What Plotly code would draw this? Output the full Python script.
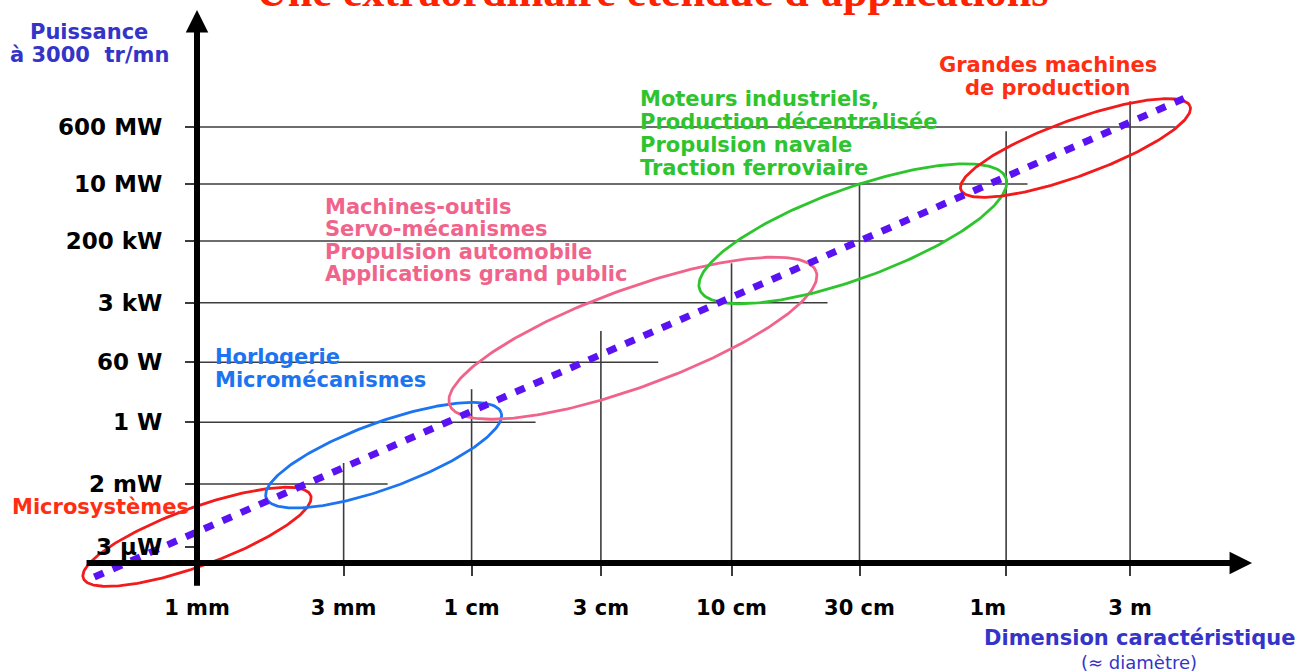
import numpy as np
import plotly.graph_objects as go

# ---------------- data ----------------
dim_labels = ["1 mm", "3 mm", "1 cm", "3 cm", "10 cm", "30 cm", "1m", "3 m"]
power_labels = ["3 µW", "2 mW", "1 W", "60 W", "3 kW", "200 kW", "10 MW", "600 MW"]

# schematic (non-proportional) position of each graduation
dim_pos = [0.0, 1.10, 2.06, 3.03, 4.01, 4.97, 6.07, 7.0]
power_pos = [0.0, 1.05, 2.08, 3.08, 4.07, 5.10, 6.05, 7.0]

# staircase grid: reach of each horizontal / vertical reference line
hline_reach = [None, 1.43, 2.54, 3.46, 4.73, 5.61, 6.23, 7.34]
vline_reach = [None, 1.40, 2.63, 3.60, 4.73, 6.07, 6.93, 7.43]

# trend (power vs. size)
trend_x = [-0.77, 7.43]
trend_y = [-0.50, 7.50]

# application domains (ellipse centre in axis units)
domain_names = ["Microsystèmes", "Horlogerie", "Machines-outils", "Moteurs industriels", "Grandes machines"]
domain_cx = [0.00, 1.40, 3.27, 4.92, 6.59]
domain_cy = [0.17, 1.53, 3.48, 5.22, 6.65]

microsys_text = ["Microsystèmes"]
horlo_text = ["Horlogerie", "Micromécanismes"]
machines_text = ["Machines-outils", "Servo-mécanismes", "Propulsion automobile", "Applications grand public"]
moteurs_text = ["Moteurs industriels,", "Production décentralisée", "Propulsion navale", "Traction ferroviaire"]
grandes_text = ["Grandes machines", "de production"]

title_text = "Une extraordinaire étendue d'applications"
y_title = ["Puissance", "à 3000\u00a0\u00a0tr/mn"]
x_title = ["Dimension caractéristique", "(≈ diamètre)"]

# ---------------- layout geometry ----------------
W, H = 1316, 672
X0, XS = 197, 133.3      # pixel of x=0, pixels per unit
Y0, YS = 547, 60.0       # pixel of y=0, pixels per unit
xr = [-X0 / XS, (W - X0) / XS]
yr = [-(H - Y0) / YS, Y0 / YS]
x_axis_y = -0.267
y_axis_x = 0.0

RED = "#F21A1A"
RED_T = "#FF2E12"
BLUE = "#1C74F0"
PINK = "#F0648C"
GREEN = "#2EC42E"
VIOLET = "#5A12F2"
NAVY = "#3434C8"
FONT = "DejaVu Sans"

fig = go.Figure()

# staircase grid lines
gx, gy = [], []
for yv, reach in zip(power_pos, hline_reach):
    if reach is not None:
        gx += [y_axis_x, reach, None]
        gy += [yv, yv, None]
for xv, reach in zip(dim_pos, vline_reach):
    if reach is not None:
        gx += [xv, xv, None]
        gy += [x_axis_y, reach, None]
fig.add_trace(go.Scatter(x=gx, y=gy, mode="lines",
                         line=dict(color="#3c3c3c", width=1.6), hoverinfo="skip"))

# ellipses (semi-axes in pixels, tilt in degrees)
ell_a = [121, 125, 195, 163, 122]
ell_b = [29, 33, 49, 45, 28]
ell_tilt = [20, 20, 20, 20, 20]
ell_color = [RED, BLUE, PINK, GREEN, RED]
t = np.linspace(0, 2 * np.pi, 240)
for cx, cy, a, b, th, col, name in zip(domain_cx, domain_cy, ell_a, ell_b, ell_tilt, ell_color, domain_names):
    r = np.deg2rad(th)
    dx = a * np.cos(t) * np.cos(r) - b * np.sin(t) * np.sin(r)
    dy = a * np.cos(t) * np.sin(r) + b * np.sin(t) * np.cos(r)
    fig.add_trace(go.Scatter(x=cx + dx / XS, y=cy + dy / YS, mode="lines", name=name,
                             line=dict(color=col, width=2.8), hoverinfo="skip"))

# dotted trend
fig.add_trace(go.Scatter(x=trend_x, y=trend_y, mode="lines",
                         line=dict(color=VIOLET, width=7, dash="10px,10px"), hoverinfo="skip"))

ann = []
# axes with arrows
ann.append(dict(x=7.915, y=x_axis_y, ax=-0.84, ay=x_axis_y, xref="x", yref="y", axref="x", ayref="y",
                text="", showarrow=True, arrowhead=2, arrowsize=0.75, arrowwidth=6, arrowcolor="black"))
ann.append(dict(x=y_axis_x, y=8.95, ax=y_axis_x, ay=-0.67, xref="x", yref="y", axref="x", ayref="y",
                text="", showarrow=True, arrowhead=2, arrowsize=0.75, arrowwidth=6, arrowcolor="black"))


def text_block(lines, x, y0, step, color, anchor="left", size=21):
    for i, s in enumerate(lines):
        ann.append(dict(x=x, y=y0 - i * step, xref="x", yref="y", text=s, showarrow=False,
                        xanchor=anchor, yanchor="middle",
                        font=dict(family=FONT, size=size, color=color, weight="bold")))


text_block(microsys_text, -1.40, 0.667, 0.38, RED_T)
text_block(horlo_text, 0.12, 3.167, 0.384, BLUE)
text_block(machines_text, 0.945, 5.667, 0.372, PINK)
text_block(moteurs_text, 3.308, 7.467, 0.383, GREEN)
text_block(grandes_text, 6.384, 8.033, 0.383, RED_T, anchor="center")
text_block(y_title, -0.81, 8.583, 0.383, NAVY, anchor="center", size=21)
text_block(x_title[:1], 7.07, -1.517, 0.4, NAVY, anchor="center", size=21)
ann.append(dict(x=7.07, y=-1.917, xref="x", yref="y", text=x_title[1], showarrow=False,
                xanchor="center", yanchor="middle", font=dict(family=FONT, size=18, color=NAVY)))

# slide title (cut by the top edge, as on the slide)
ann.append(dict(x=(248 + 1055) / 2 / W, y=1 - 18 / H, xref="paper", yref="paper", text=title_text,
                showarrow=False, xanchor="center", yanchor="bottom",
                font=dict(family="Liberation Serif", size=44, color="#FF2200", weight="bold")))

# "1m" sits slightly left of its graduation on the slide
shown_dim_labels = [s + "\u00a0" * 5 if s == "1m" else s for s in dim_labels]

fig.update_layout(
    width=W, height=H, margin=dict(l=0, r=0, t=0, b=0),
    paper_bgcolor="white", plot_bgcolor="white", showlegend=False,
    annotations=ann,
    xaxis=dict(range=xr, domain=[0, 1], anchor="free",
               position=(x_axis_y - yr[0]) / (yr[1] - yr[0]),
               tickmode="array", tickvals=dim_pos, ticktext=shown_dim_labels,
               ticks="outside", ticklen=12, tickwidth=1.6, tickcolor="#3c3c3c",
               ticklabelstandoff=14,
               tickfont=dict(family=FONT, size=21, color="black", weight="bold"),
               showgrid=False, zeroline=False, showline=False, fixedrange=True),
    yaxis=dict(range=yr, domain=[0, 1], anchor="free",
               position=(y_axis_x - xr[0]) / (xr[1] - xr[0]),
               tickmode="array", tickvals=power_pos, ticktext=power_labels,
               ticks="outside", ticklen=12, tickwidth=1.6, tickcolor="#3c3c3c",
               ticklabelstandoff=18,
               tickfont=dict(family=FONT, size=23, color="black", weight="bold"),
               showgrid=False, zeroline=False, showline=False, fixedrange=True),
)

fig.write_html("out.html", config={"displayModeBar": False},
               post_script="document.body.style.margin='0';document.body.style.overflow='hidden';")
